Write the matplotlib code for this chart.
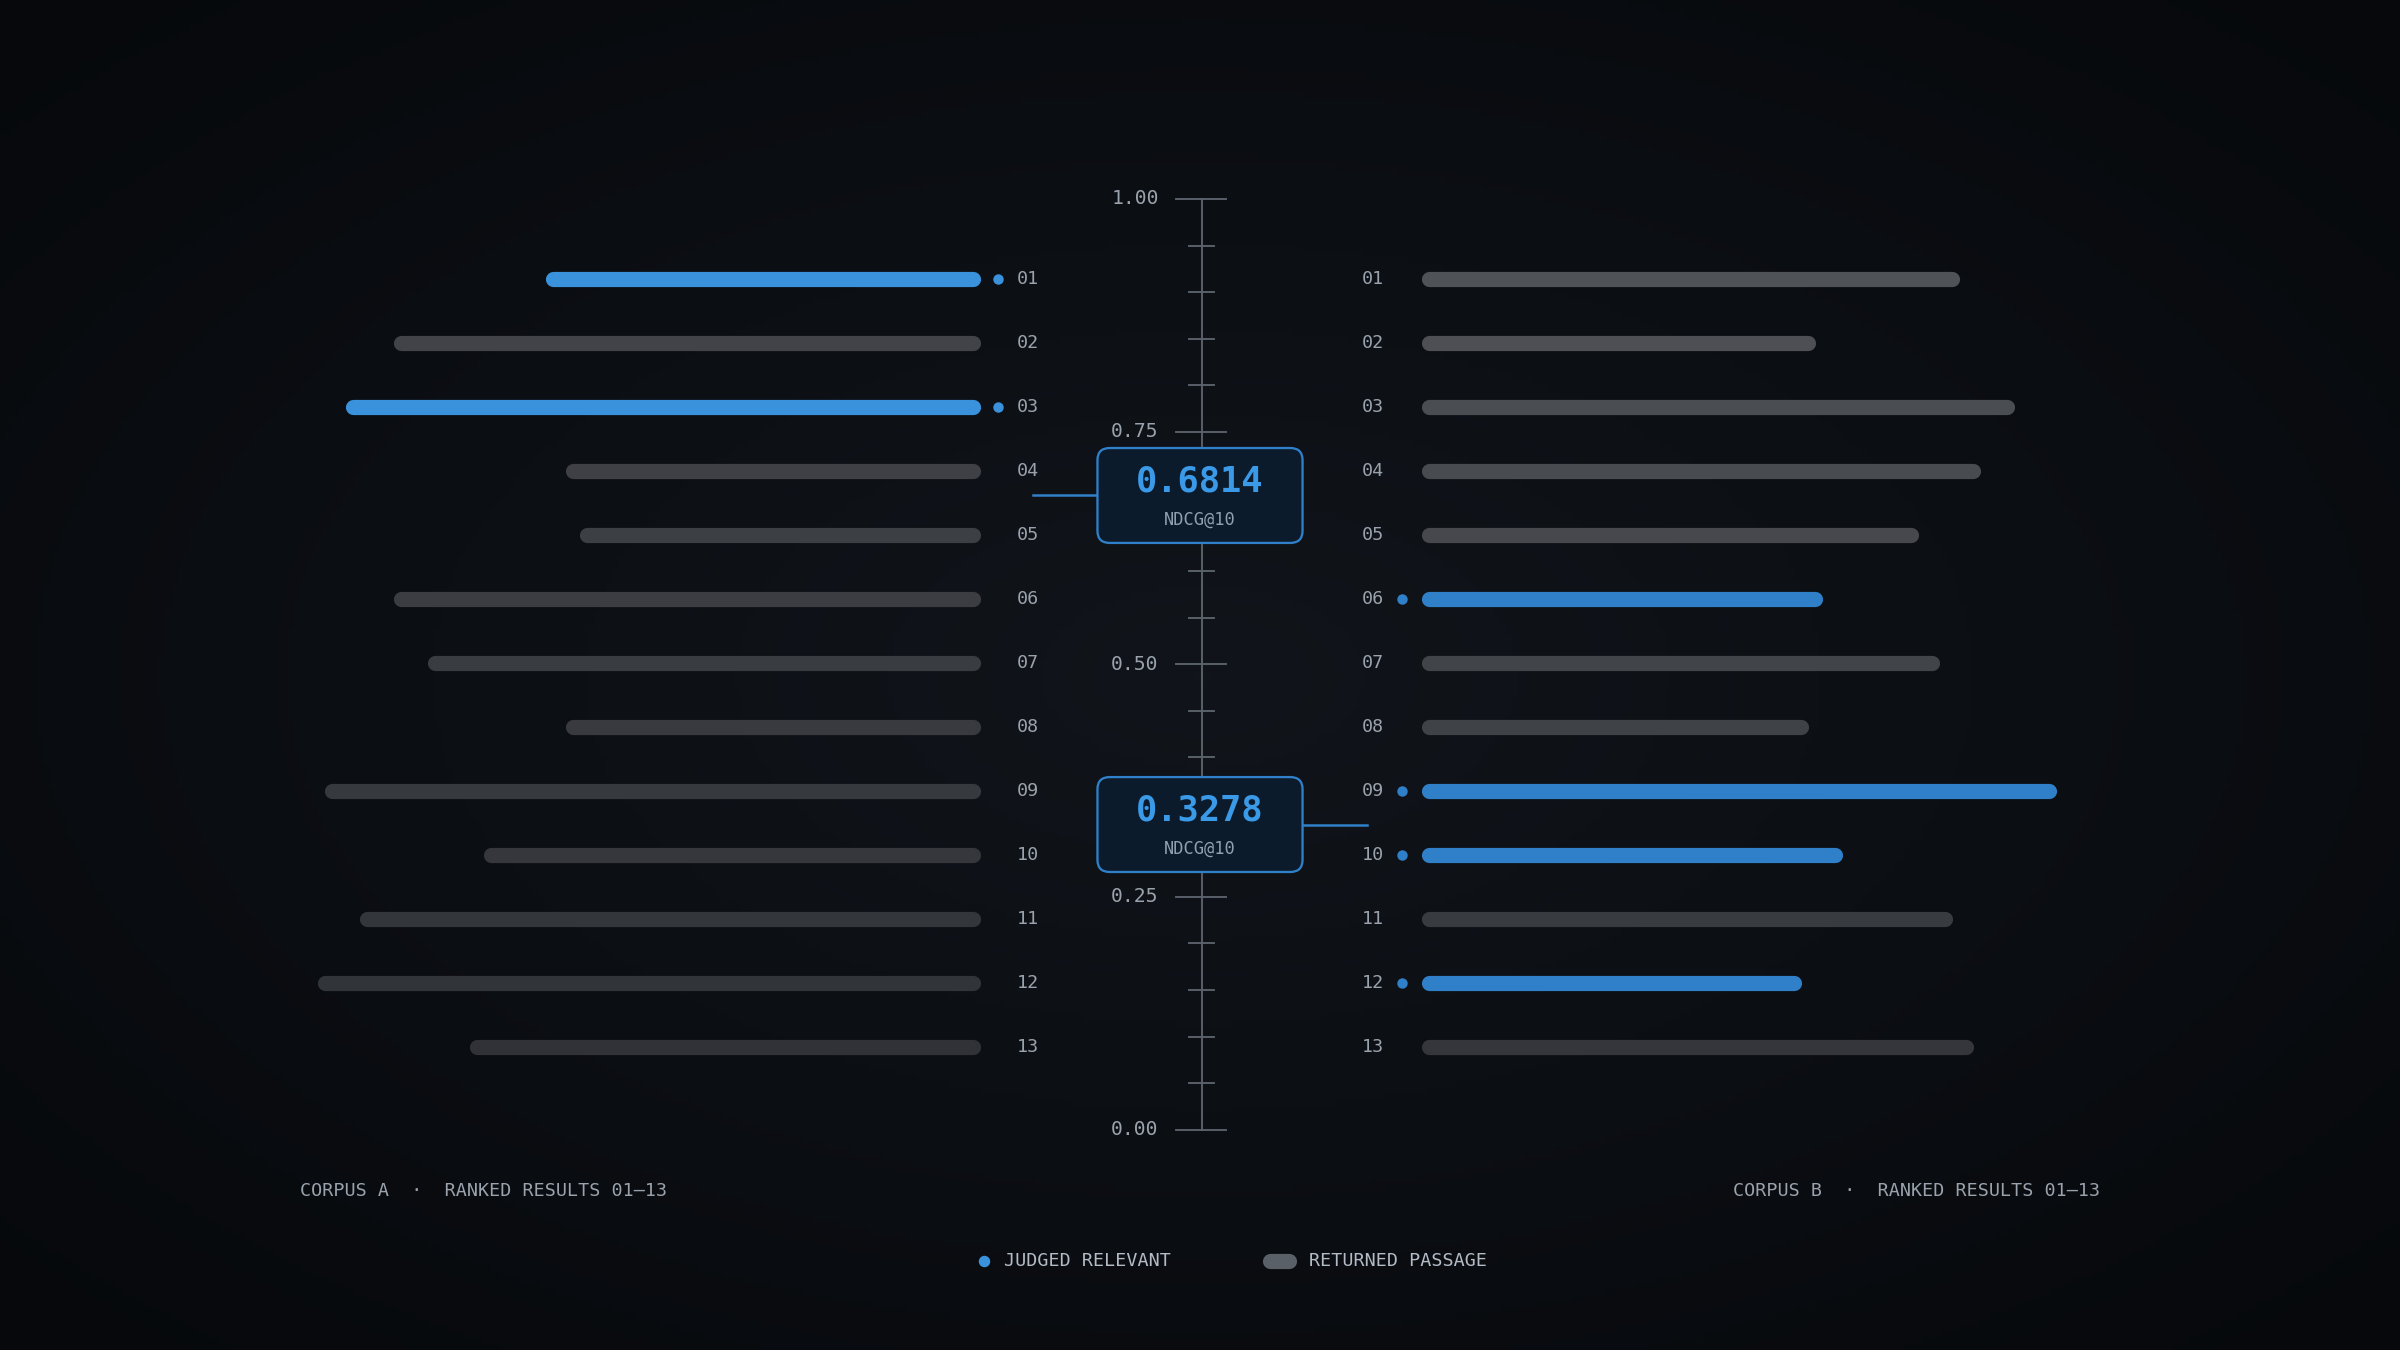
import numpy as np
import matplotlib
matplotlib.use("Agg")
import matplotlib.pyplot as plt
from matplotlib.patches import FancyBboxPatch

ranks = ["01", "02", "03", "04", "05", "06", "07", "08", "09", "10", "11", "12", "13"]
# bar lengths (relative passage scores)
corpus_a = [0.63, 0.85, 0.92, 0.60, 0.58, 0.85, 0.80, 0.60, 0.95, 0.72, 0.90, 0.96, 0.74]
corpus_b = [0.78, 0.57, 0.86, 0.81, 0.72, 0.58, 0.75, 0.56, 0.92, 0.61, 0.77, 0.55, 0.80]
relevant_a = ["01", "03"]
relevant_b = ["06", "09", "10", "12"]
ndcg_a = 0.6814
ndcg_b = 0.3278
axis_ticks = [0.00, 0.25, 0.50, 0.75, 1.00]

BG = "#0b0e12"
MONO = "DejaVu Sans Mono"
W, H = 1568, 882
SCALE = 450  # px per unit score
CAP = 4.5    # round cap radius in px

fig = plt.figure(figsize=(16, 9), dpi=150, facecolor=BG)
ax = fig.add_axes([0, 0, 1, 1])
ax.set_xlim(0, W)
ax.set_ylim(H, 0)
ax.axis("off")

# soft vignette
yy, xx = np.mgrid[0:H:4, 0:W:4]
r = np.sqrt(((xx - W / 2) / (W / 2)) ** 2 + ((yy - H / 2) / (H / 2)) ** 2)
ax.imshow(np.clip(1 - r * 0.6, 0, 1), extent=[0, W, H, 0],
          cmap=matplotlib.colors.LinearSegmentedColormap.from_list("v", ["#06080b", "#11151b"]),
          zorder=0, aspect="auto")

row_y = np.linspace(182, 684, len(ranks))
lw = 7.3

for i, (rk, y) in enumerate(zip(ranks, row_y)):
    g = 0.26 - i * 0.006
    gray = (g, g + 0.01, g + 0.03)
    # left
    la = corpus_a[i] * SCALE
    rel = rk in relevant_a
    ax.plot([640 - la + CAP, 640 - CAP], [y, y], color="#3a92dc" if rel else gray, lw=lw,
            solid_capstyle="round", zorder=3)
    if rel:
        ax.plot(652, y, "o", color="#3a92dc", ms=4, zorder=3)
    ax.text(664, y, rk, color="#9aa3ad", fontsize=8.8, family=MONO, va="center", ha="left")
    # right
    lb = corpus_b[i] * SCALE
    rel = rk in relevant_b
    g2 = 0.31 - i * 0.009
    gray2 = (g2, g2 + 0.01, g2 + 0.03)
    ax.plot([929 + CAP, 929 + lb - CAP], [y, y], color="#2f80c8" if rel else gray2, lw=lw,
            solid_capstyle="round", zorder=3)
    if rel:
        ax.plot(916, y, "o", color="#2f80c8", ms=4, zorder=3)
    ax.text(904, y, rk, color="#9aa3ad", fontsize=8.8, family=MONO, va="center", ha="right")


# central scale
def ypos(v):
    return 130 + (738 - 130) * (1 - v)


ax.plot([785, 785], [ypos(1), ypos(0)], color="#5b636c", lw=0.9, zorder=2)
for v in np.arange(0, 1.0001, 0.05):
    major = any(abs(v - t) < 1e-6 for t in axis_ticks)
    x0, x1 = (768, 801) if major else (777, 793)
    ax.plot([x0, x1], [ypos(v), ypos(v)], color="#5b636c", lw=0.9, zorder=2)
for t in axis_ticks:
    ax.text(757, ypos(t), f"{t:.2f}", color="#9aa3ad", fontsize=9.5, family=MONO, va="center", ha="right")

# score boxes
for val, side in [(ndcg_a, "left"), (ndcg_b, "right")]:
    yc = ypos(val)
    box = FancyBboxPatch((717, yc - 31), 134, 62, boxstyle="round,pad=0,rounding_size=8",
                         facecolor="#0c1b2b", edgecolor="#2f80c8", lw=1.1, zorder=5)
    ax.add_patch(box)
    if side == "left":
        ax.plot([675, 717], [yc, yc], color="#2f80c8", lw=1.2, zorder=4)
    else:
        ax.plot([851, 893], [yc, yc], color="#2f80c8", lw=1.2, zorder=4)
    ax.text(784, yc - 9, f"{val:.4f}", color="#3a9ae8", fontsize=17, family=MONO, weight="bold",
            ha="center", va="center", zorder=6)
    ax.text(784, yc + 16, "NDCG@10", color="#8fa0b2", fontsize=8.2, family=MONO,
            ha="center", va="center", zorder=6)

# footers
ax.text(196, 778, "CORPUS A  ·  RANKED RESULTS 01–13", color="#9aa3ad", fontsize=8.8, family=MONO,
        va="center", ha="left")
ax.text(1372, 778, "CORPUS B  ·  RANKED RESULTS 01–13", color="#9aa3ad", fontsize=8.8, family=MONO,
        va="center", ha="right")

# legend
ax.plot(643, 824, "o", color="#3a92dc", ms=4.5)
ax.text(656, 824, "JUDGED RELEVANT", color="#b3bcc6", fontsize=8.8, family=MONO, va="center", ha="left")
ax.plot([830, 842], [824, 824], color="#5a6068", lw=lw, solid_capstyle="round")
ax.text(855, 824, "RETURNED PASSAGE", color="#b3bcc6", fontsize=8.8, family=MONO, va="center", ha="left")

fig.savefig("out.png", dpi=150, facecolor=BG)
plt.close(fig)
